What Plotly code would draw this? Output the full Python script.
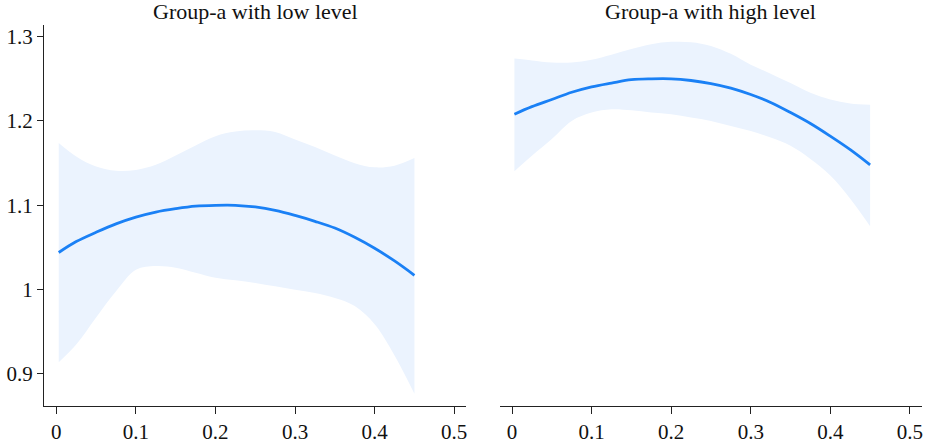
import plotly.graph_objects as go

x_vals = [0.003, 0.025, 0.05, 0.075, 0.1, 0.125, 0.15, 0.175, 0.2, 0.225,
          0.25, 0.275, 0.3, 0.325, 0.35, 0.375, 0.4, 0.425, 0.45]

low_fit = [1.044, 1.057, 1.068, 1.078, 1.086, 1.092, 1.096, 1.099, 1.100, 1.100,
           1.098, 1.094, 1.088, 1.081, 1.073, 1.062, 1.049, 1.034, 1.017]
low_upper = [1.174, 1.158, 1.146, 1.141, 1.142, 1.148, 1.159, 1.171, 1.182, 1.1875,
             1.189, 1.187, 1.178, 1.169, 1.159, 1.150, 1.145, 1.147, 1.156]
low_lower = [0.914, 0.935, 0.967, 0.998, 1.0235, 1.028, 1.026, 1.020, 1.014, 1.011,
             1.008, 1.004, 1.000, 0.996, 0.990, 0.9805, 0.959, 0.922, 0.8765]

high_fit = [1.208, 1.217, 1.2255, 1.234, 1.2405, 1.245, 1.249, 1.250, 1.250, 1.248,
            1.2444, 1.239, 1.2314, 1.222, 1.210, 1.197, 1.182, 1.166, 1.148]
high_upper = [1.274, 1.2718, 1.2694, 1.2694, 1.2726, 1.2785, 1.2852, 1.291, 1.2938, 1.2934,
              1.289, 1.2796, 1.2667, 1.2561, 1.245, 1.2334, 1.2255, 1.2208, 1.2193]
high_lower = [1.1405, 1.1588, 1.1785, 1.2000, 1.2099, 1.2138, 1.2126, 1.210, 1.2079, 1.204,
              1.200, 1.194, 1.188, 1.1804, 1.1706, 1.155, 1.1353, 1.1079, 1.0753]

titles = ["Group-a with low level", "Group-a with high level"]
x_ticks = [0, 0.1, 0.2, 0.3, 0.4, 0.5]
x_tick_text = ["0", "0.1", "0.2", "0.3", "0.4", "0.5"]
y_ticks = [0.9, 1.0, 1.1, 1.2, 1.3]
y_tick_text = ["0.9", "1", "1.1", "1.2", "1.3"]

FONT = "Liberation Serif, Times New Roman, Times, serif"
LINE_COLOR = "#1a80f5"
BAND_COLOR = "#ebf3fe"

fig = go.Figure()
panels = [(low_fit, low_upper, low_lower, "x", "y"),
          (high_fit, high_upper, high_lower, "x2", "y")]
for fit, up, lo, xa, ya in panels:
    fig.add_trace(go.Scatter(x=x_vals, y=up, mode="lines", line=dict(width=0, shape="spline", smoothing=1.0),
                             xaxis=xa, yaxis=ya, hoverinfo="skip", showlegend=False))
    fig.add_trace(go.Scatter(x=x_vals, y=lo, mode="lines", line=dict(width=0, shape="spline", smoothing=1.0),
                             fill="tonexty", fillcolor=BAND_COLOR,
                             xaxis=xa, yaxis=ya, hoverinfo="skip", showlegend=False))
    fig.add_trace(go.Scatter(x=x_vals, y=fit, mode="lines",
                             line=dict(color=LINE_COLOR, width=2.8, shape="spline"),
                             xaxis=xa, yaxis=ya, showlegend=False))

xaxis_common = dict(range=[-0.0155, 0.5152], tickvals=x_ticks, ticktext=x_tick_text,
                    showline=True, linecolor="#222", linewidth=1, ticks="outside",
                    ticklen=7, tickcolor="#222", showgrid=False, zeroline=False,
                    tickfont=dict(family=FONT, size=21, color="#111"), fixedrange=True)

fig.update_layout(
    width=927, height=448,
    margin=dict(l=44, r=4, t=25, b=39),
    paper_bgcolor="white", plot_bgcolor="white",
    font=dict(family=FONT, color="#111"),
    xaxis=dict(domain=[0, 0.481], anchor="y", **xaxis_common),
    xaxis2=dict(domain=[0.519, 1], anchor="y", **xaxis_common),
    yaxis=dict(range=[0.862, 1.3138], tickvals=y_ticks, ticktext=y_tick_text,
               showline=True, linecolor="#222", linewidth=1, ticks="outside",
               ticklen=6, tickcolor="#222", showgrid=False, zeroline=False,
               tickfont=dict(family=FONT, size=21, color="#111"), fixedrange=True),
)

centers = [0.481 / 2, (0.519 + 1) / 2]
for t, c in zip(titles, centers):
    fig.add_annotation(text=t, x=c, y=1, xref="paper", yref="paper",
                       xanchor="center", yanchor="bottom", showarrow=False,
                       yshift=-1,
                       font=dict(family=FONT, size=22, color="#111"))

# remove the default 8px page margin so the figure fills the window exactly
fig.write_html("out.html", config={"displayModeBar": False},
               post_script="document.body.style.margin='0';")
